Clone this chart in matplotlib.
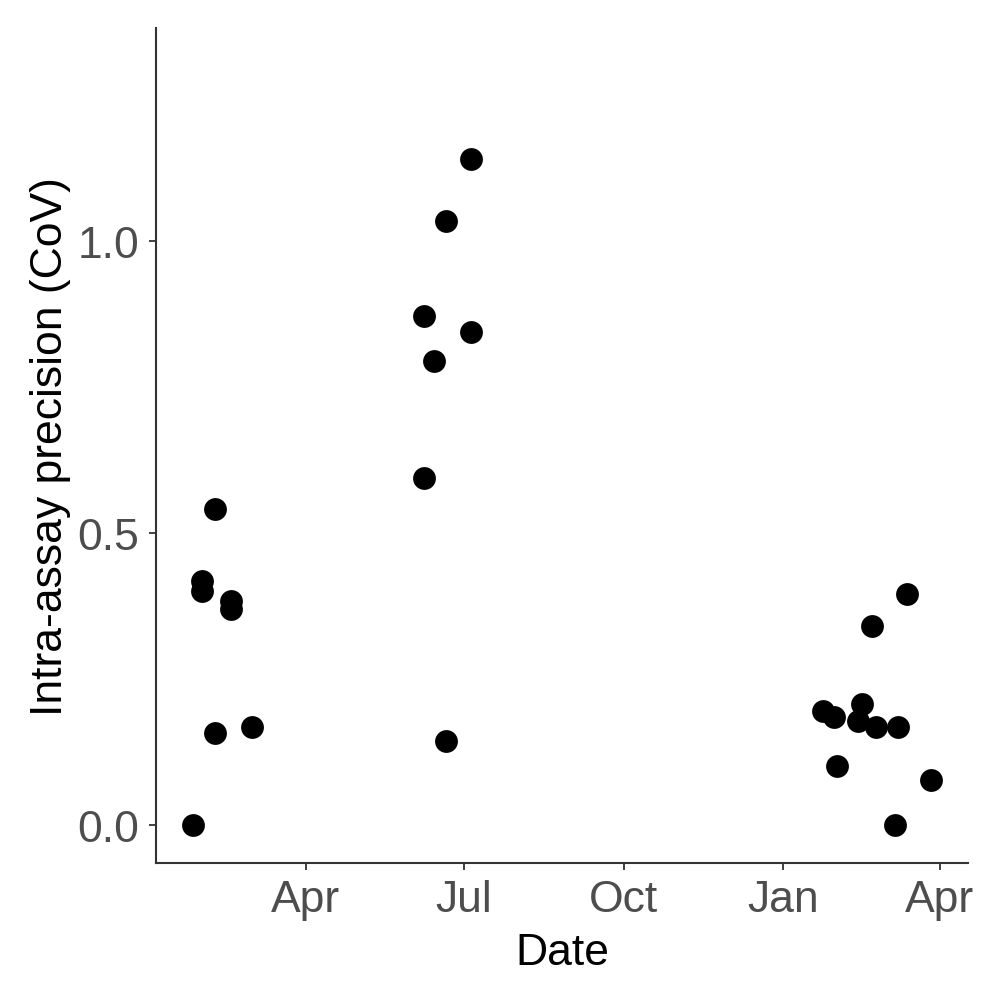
import pandas as pd
import matplotlib
matplotlib.use('Agg')
import matplotlib.pyplot as plt
import matplotlib.dates as mdates

# sampling dates and intra-assay CoV
dates = [
    '2020-01-27', '2020-02-01', '2020-02-01', '2020-02-09', '2020-02-09',
    '2020-02-18', '2020-02-18', '2020-03-01',
    '2020-06-08', '2020-06-14', '2020-06-08', '2020-06-21', '2020-06-21',
    '2020-07-05', '2020-07-05',
    '2021-01-24', '2021-01-30', '2021-02-01', '2021-02-13', '2021-02-15',
    '2021-02-21', '2021-02-23', '2021-03-08', '2021-03-06', '2021-03-13',
    '2021-03-27',
]
cov = [
    0.0, 0.418, 0.401, 0.541, 0.158,
    0.384, 0.370, 0.168,
    0.871, 0.795, 0.594, 1.035, 0.144,
    1.141, 0.844,
    0.195, 0.185, 0.101, 0.178, 0.207,
    0.341, 0.168, 0.168, 0.0, 0.396,
    0.077,
]
y_breaks = [0.0, 0.5, 1.0]
y_limits = [0.0, 1.3]

data = pd.DataFrame({'Date': pd.to_datetime(dates), 'CoV': cov})

plt.rcParams['font.family'] = ['Liberation Sans', 'DejaVu Sans']

fig = plt.figure(figsize=(10, 9.87), dpi=100)
ax = fig.add_axes([0.156, 1 - 864 / 987, (968 - 156) / 1000, (864 - 29) / 987])

ax.scatter(data['Date'], data['CoV'], s=270, color='black', linewidths=0, zorder=3)

# ggplot-like 5% expansion
x_min, x_max = data['Date'].min(), data['Date'].max()
x_pad = (x_max - x_min) * 0.05
ax.set_xlim(x_min - x_pad, x_max + x_pad)
y_pad = (y_limits[1] - y_limits[0]) * 0.05
ax.set_ylim(y_limits[0] - y_pad, y_limits[1] + y_pad)

ax.xaxis.set_major_locator(mdates.MonthLocator(bymonth=[1, 4, 7, 10]))
ax.xaxis.set_major_formatter(mdates.DateFormatter('%b'))
ax.set_yticks(y_breaks)
ax.set_yticklabels([f'{v:.1f}' for v in y_breaks])

for side in ['top', 'right']:
    ax.spines[side].set_visible(False)
for side in ['left', 'bottom']:
    ax.spines[side].set_color('#333333')
    ax.spines[side].set_linewidth(1.5)

ax.tick_params(axis='both', length=5, width=1.3, color='#333333',
               labelsize=32, labelcolor='#4D4D4D')
ax.tick_params(axis='x', pad=6.5)
ax.tick_params(axis='y', pad=7)

ax.set_xlabel('Date', fontsize=32, color='black')
ax.set_ylabel('Intra-assay precision (CoV)', fontsize=32, color='black')
ax.xaxis.set_label_coords(0.5, -0.083)
ax.yaxis.set_label_coords(-0.105, 0.5)

fig.savefig('out.png', dpi=100)
